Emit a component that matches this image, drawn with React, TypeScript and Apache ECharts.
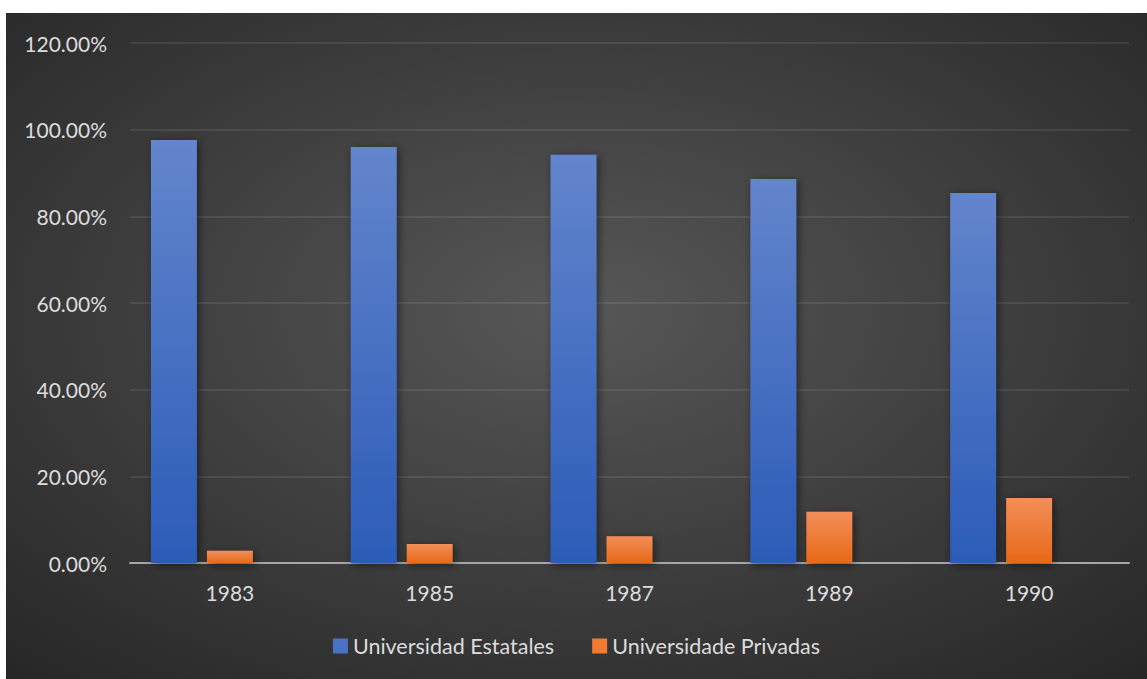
import React, { useEffect, useRef } from "react";
import * as echarts from "echarts";

const categories = ["1983", "1985", "1987", "1989", "1990"];
const estatales = [97.6, 96.0, 94.2, 88.6, 85.4];
const privadas = [2.8, 4.4, 6.2, 11.8, 15.0];
const spacerSeries: (number | null)[] = [];
const seriesNames = ["Universidad Estatales", "Universidade Privadas"];

const FONT = "Lato, 'Open Sans', sans-serif";
const TXT = "#dcdcdc";

export default function App() {
  const ref = useRef<HTMLDivElement>(null);
  useEffect(() => {
    if (!ref.current) return;
    const chart = echarts.init(ref.current, null, { renderer: "svg" });
    const blueGrad = new echarts.graphic.LinearGradient(0, 0, 0, 1, [
      { offset: 0, color: "#6385cc" },
      { offset: 1, color: "#2b5cb8" },
    ]);
    const orangeGrad = new echarts.graphic.LinearGradient(0, 0, 0, 1, [
      { offset: 0, color: "#f28f5a" },
      { offset: 1, color: "#e86817" },
    ]);
    const shadow = {
      shadowColor: "rgba(0,0,0,0.5)",
      shadowBlur: 8,
      shadowOffsetX: 2,
      shadowOffsetY: 2,
    };
    chart.setOption({
      animation: false,
      backgroundColor: {
        type: "radial",
        x: 0.5,
        y: 0.45,
        r: 0.75,
        colorStops: [
          { offset: 0, color: "#575757" },
          { offset: 1, color: "#262626" },
        ],
      },
      textStyle: { fontFamily: FONT },
      grid: { left: 124, right: 18, top: 30, bottom: 116, containLabel: false },
      legend: {
        bottom: 17,
        left: "center",
        itemWidth: 15,
        itemHeight: 15,
        itemGap: 38,
        icon: "rect",
        textStyle: { color: TXT, fontSize: 21.5, fontFamily: FONT },
        data: [
          { name: seriesNames[0], itemStyle: { color: "#4a72c4" } },
          { name: seriesNames[1], itemStyle: { color: "#ef7a30" } },
        ],
      },
      xAxis: {
        type: "category",
        data: categories,
        axisLine: { lineStyle: { color: "#a6a6a6", width: 2 } },
        axisTick: { show: false },
        axisLabel: { color: TXT, fontSize: 21, margin: 19, fontFamily: FONT },
      },
      yAxis: {
        type: "value",
        min: 0,
        max: 120,
        interval: 20,
        axisLine: { show: false },
        axisTick: { show: false },
        axisLabel: {
          color: TXT,
          fontSize: 21,
          margin: 23,
          fontFamily: FONT,
          formatter: (v: number) => v.toFixed(2) + "%",
        },
        splitLine: { lineStyle: { color: "rgba(255,255,255,0.11)", width: 1.5 } },
      },
      series: [
        {
          name: seriesNames[0],
          type: "bar",
          data: estatales,
          barGap: "22%",
          barCategoryGap: "21%",
          itemStyle: { color: blueGrad, ...shadow },
        },
        {
          name: seriesNames[1],
          type: "bar",
          data: privadas,
          barGap: "22%",
          barCategoryGap: "21%",
          itemStyle: { color: orangeGrad, ...shadow },
        },
        {
          name: "spacer",
          type: "bar",
          data: spacerSeries,
          barGap: "22%",
          barCategoryGap: "21%",
          silent: true,
        },
      ],
    });
    return () => chart.dispose();
  }, []);
  return (
    <div
      ref={ref}
      style={{ position: "absolute", left: 6, top: 13, width: 1141, height: 666 }}
    />
  );
}
